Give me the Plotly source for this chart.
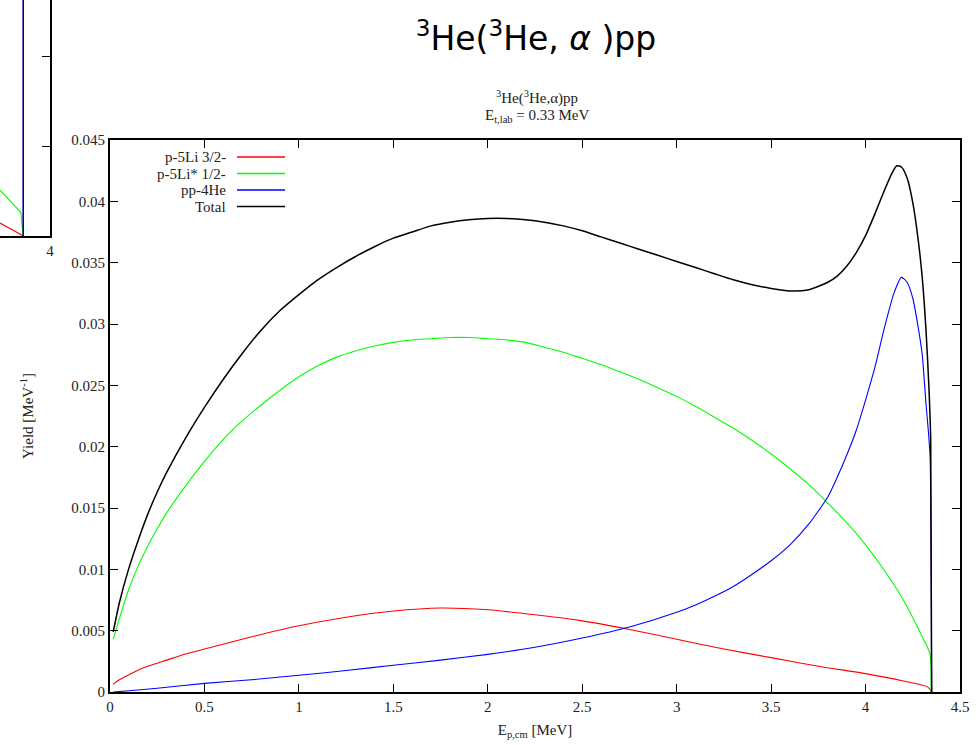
import plotly.graph_objects as go

W, H = 976, 745

# ---------------- data ----------------
red_x = [0.017, 0.05, 0.1, 0.15, 0.2, 0.3, 0.4, 0.5, 0.75, 1.0, 1.25, 1.5, 1.75, 2.0, 2.25,
         2.5, 2.75, 3.0, 3.25, 3.5, 3.75, 4.0, 4.2, 4.33, 4.35]
red_y = [0.00063, 0.0010, 0.0014, 0.0018, 0.0021, 0.0026, 0.0031, 0.0035, 0.0045, 0.0054,
         0.0061, 0.0066, 0.00685, 0.0067, 0.0063, 0.0058, 0.0051, 0.0043, 0.0035, 0.0028,
         0.0021, 0.0015, 0.0009, 0.0004, 0.0]

green_x = [0.017, 0.05, 0.1, 0.15, 0.2, 0.25, 0.3, 0.4, 0.5, 0.6, 0.7, 0.8, 0.9, 1.0, 1.1,
           1.2, 1.3, 1.4, 1.5, 1.6, 1.7, 1.8, 1.9, 2.0, 2.1, 2.2, 2.3, 2.4, 2.5, 2.6, 2.7,
           2.8, 2.9, 3.0, 3.1, 3.2, 3.3, 3.4, 3.5, 3.6, 3.7, 3.8, 3.9, 4.0, 4.1, 4.2, 4.3,
           4.341, 4.347]
green_y = [0.0043, 0.0060, 0.0084, 0.0103, 0.0119, 0.0133, 0.0146, 0.0168, 0.0188, 0.0206,
           0.0221, 0.0234, 0.0246, 0.0257, 0.0266, 0.0273, 0.0278, 0.0282, 0.0285, 0.0287,
           0.0288, 0.0289, 0.0289, 0.0288, 0.0287, 0.0285, 0.0281, 0.0277, 0.0272, 0.0267,
           0.0261, 0.0255, 0.0248, 0.0241, 0.0233, 0.0224, 0.0215, 0.0205, 0.0194, 0.0182,
           0.0169, 0.0154, 0.0138, 0.0120, 0.0099, 0.0075, 0.0045, 0.0031, 0.0]

blue_x = [0.017, 0.1, 0.25, 0.5, 0.75, 1.0, 1.25, 1.5, 1.75, 2.0, 2.25, 2.5, 2.75, 3.0, 3.1,
          3.2, 3.3, 3.4, 3.5, 3.6, 3.7, 3.8, 3.85, 3.9, 3.95, 4.0, 4.05, 4.1, 4.15, 4.19,
          4.22, 4.25, 4.28, 4.3, 4.32, 4.335, 4.342, 4.35]
blue_y = [0.0, 0.0001, 0.0003, 0.0007, 0.0010, 0.00136, 0.00175, 0.00218, 0.0026, 0.00307,
          0.00365, 0.0044, 0.0053, 0.0065, 0.0071, 0.0078, 0.0086, 0.0096, 0.0107, 0.0120,
          0.0137, 0.0159, 0.0175, 0.0193, 0.0213, 0.0238, 0.0265, 0.0297, 0.0325, 0.0338,
          0.0334, 0.0321, 0.0296, 0.0275, 0.0235, 0.0208, 0.0190, 0.0]

total_x = [0.017, 0.05, 0.1, 0.15, 0.2, 0.25, 0.3, 0.4, 0.5, 0.6, 0.7, 0.8, 0.9, 1.0, 1.1,
           1.2, 1.3, 1.4, 1.5, 1.6, 1.7, 1.8, 1.9, 2.0, 2.1, 2.2, 2.3, 2.4, 2.5, 2.6, 2.7,
           2.8, 2.9, 3.0, 3.1, 3.2, 3.3, 3.4, 3.5, 3.6, 3.7, 3.8, 3.85, 3.9, 3.95, 4.0, 4.05,
           4.1, 4.14, 4.165, 4.19, 4.22, 4.25, 4.28, 4.3, 4.32, 4.335, 4.345, 4.35]
total_y = [0.0049, 0.0073, 0.0101, 0.0124, 0.0145, 0.0163, 0.0179, 0.0207, 0.0232, 0.0255,
           0.0276, 0.0295, 0.0311, 0.0324, 0.0336, 0.0346, 0.0355, 0.0363, 0.0370, 0.0375,
           0.0380, 0.0383, 0.0385, 0.0386, 0.0386, 0.0385, 0.0383, 0.0380, 0.0376, 0.0371,
           0.0366, 0.0361, 0.0356, 0.0351, 0.0346, 0.0341, 0.0336, 0.0332, 0.0329, 0.0327,
           0.0328, 0.0334, 0.0339, 0.0347, 0.0358, 0.0372, 0.0390, 0.0409, 0.0423, 0.0429,
           0.0428, 0.0419, 0.0399, 0.0367, 0.0338, 0.0295, 0.0250, 0.0205, 0.0]

series_names = ["p-5Li 3/2-", "p-5Li* 1/2-", "pp-4He", "Total"]
series_colors = ["#ff0000", "#00ff00", "#0000ff", "#000000"]

x_tickvals = [0, 0.5, 1, 1.5, 2, 2.5, 3, 3.5, 4, 4.5]
x_ticktext = ["0", "0.5", "1", "1.5", "2", "2.5", "3", "3.5", "4", "4.5"]
y_tickvals = [0, 0.005, 0.01, 0.015, 0.02, 0.025, 0.03, 0.035, 0.04, 0.045]
y_ticktext = ["0", "0.005", "0.01", "0.015", "0.02", "0.025", "0.03", "0.035", "0.04", "0.045"]

# fragment of a neighbouring chart visible at the top-left corner
frag_green_x = [3.0, 3.42, 3.46]
frag_green_y = [0.51, 0.26, 0.0]
frag_red_x = [3.0, 3.45, 3.47]
frag_red_y = [0.144, 0.01, 0.0]
frag_blue_x = [3.462, 3.462]
frag_blue_y = [0.0, 2.7]
frag_black_x = [3.466, 3.466]
frag_black_y = [0.0, 2.7]

# ---------------- figure ----------------
SERIF = "Liberation Serif, Times New Roman, serif"

def px_x(p):
    return p / W

def px_y(p):
    return 1 - p / H

fig = go.Figure()

for xs, ys, name, col, w in [
    (red_x, red_y, series_names[0], series_colors[0], 1.1),
    (green_x, green_y, series_names[1], series_colors[1], 1.1),
    (blue_x, blue_y, series_names[2], series_colors[2], 1.1),
    (total_x, total_y, series_names[3], series_colors[3], 1.5),
]:
    fig.add_trace(go.Scatter(x=xs, y=ys, mode="lines", name=name,
                             line=dict(color=col, width=w, shape="spline", smoothing=0.6),
                             showlegend=False, xaxis="x", yaxis="y"))

for xs, ys, col in [
    (frag_green_x, frag_green_y, "#00ff00"),
    (frag_red_x, frag_red_y, "#ff0000"),
    (frag_blue_x, frag_blue_y, "#0000ff"),
    (frag_black_x, frag_black_y, "#000000"),
]:
    fig.add_trace(go.Scatter(x=xs, y=ys, mode="lines", line=dict(color=col, width=1.1),
                             showlegend=False, xaxis="x2", yaxis="y2", hoverinfo="skip"))

axis_common = dict(showgrid=False, zeroline=False, showline=True, linecolor="black",
                   linewidth=2, ticks="inside", ticklen=8, tickwidth=1.3,
                   tickcolor="black", mirror="allticks", automargin=False,
                   tickfont=dict(family=SERIF, size=15, color="#222"))

fig.update_layout(
    width=W, height=H,
    margin=dict(l=0, r=0, t=0, b=0, pad=0, autoexpand=False),
    plot_bgcolor="white", paper_bgcolor="white",
    showlegend=False,
    title=dict(text="<sup>3</sup>He(<sup>3</sup>He, <i>α</i> )pp",
               x=536 / W, xanchor="center", xref="paper",
               y=1 - 38 / H, yanchor="middle", yref="container",
               font=dict(family="DejaVu Sans, sans-serif", size=33, color="black")),
    xaxis=dict(domain=[110 / W, 960 / W], range=[0, 4.5], anchor="y",
               tickvals=x_tickvals, ticktext=x_ticktext,
               title=dict(text="E<sub>p,cm</sub> [MeV]", standoff=10,
                          font=dict(family=SERIF, size=15, color="#222")),
               **axis_common),
    yaxis=dict(domain=[1 - 692 / H, 1 - 140 / H], range=[0, 0.045], anchor="x",
               tickvals=y_tickvals, ticktext=y_ticktext,
               title=dict(text="Yield [MeV<sup>-1</sup>]", standoff=34,
                          font=dict(family=SERIF, size=15, color="#222")),
               **axis_common),
    xaxis2=dict(domain=[0, 50 / W], range=[3.0, 4.0], anchor="y2", automargin=False,
                showgrid=False, zeroline=False, showline=True, linecolor="black",
                linewidth=2, ticks="", tickvals=[4], ticktext=["4"],
                tickfont=dict(family=SERIF, size=15, color="#222")),
    yaxis2=dict(domain=[1 - 236 / H, 1], range=[0, 236 / 90], anchor="x2", side="right",
                automargin=False,
                showgrid=False, zeroline=False, showline=True, linecolor="black",
                linewidth=2, ticks="inside", ticklen=8, tickwidth=1.3, tickcolor="black",
                tickvals=[0, 1, 2], showticklabels=False),
)

annotations = [
    dict(text="<sup>3</sup>He(<sup>3</sup>He,α)pp", x=px_x(537), y=px_y(98),
         xanchor="center", yanchor="middle"),
    dict(text="E<sub>t,lab</sub> = 0.33 MeV", x=px_x(537), y=px_y(116),
         xanchor="center", yanchor="middle"),
]
for a in annotations:
    a.update(xref="paper", yref="paper", showarrow=False,
             font=dict(family=SERIF, size=15, color="#222"))

legend_rows = [157, 173.5, 190, 206.5]
shapes = []
for name, col, ry in zip(series_names, series_colors, legend_rows):
    annotations.append(dict(text=name, x=px_x(228), y=px_y(ry), xref="paper", yref="paper",
                            xanchor="right", yanchor="middle", showarrow=False,
                            font=dict(family=SERIF, size=15, color="#222")))
    shapes.append(dict(type="line", xref="paper", yref="paper",
                       x0=px_x(237), x1=px_x(285), y0=px_y(ry), y1=px_y(ry),
                       line=dict(color=col, width=1.3)))

fig.update_layout(annotations=annotations, shapes=shapes)

fig.write_html("out.html")
